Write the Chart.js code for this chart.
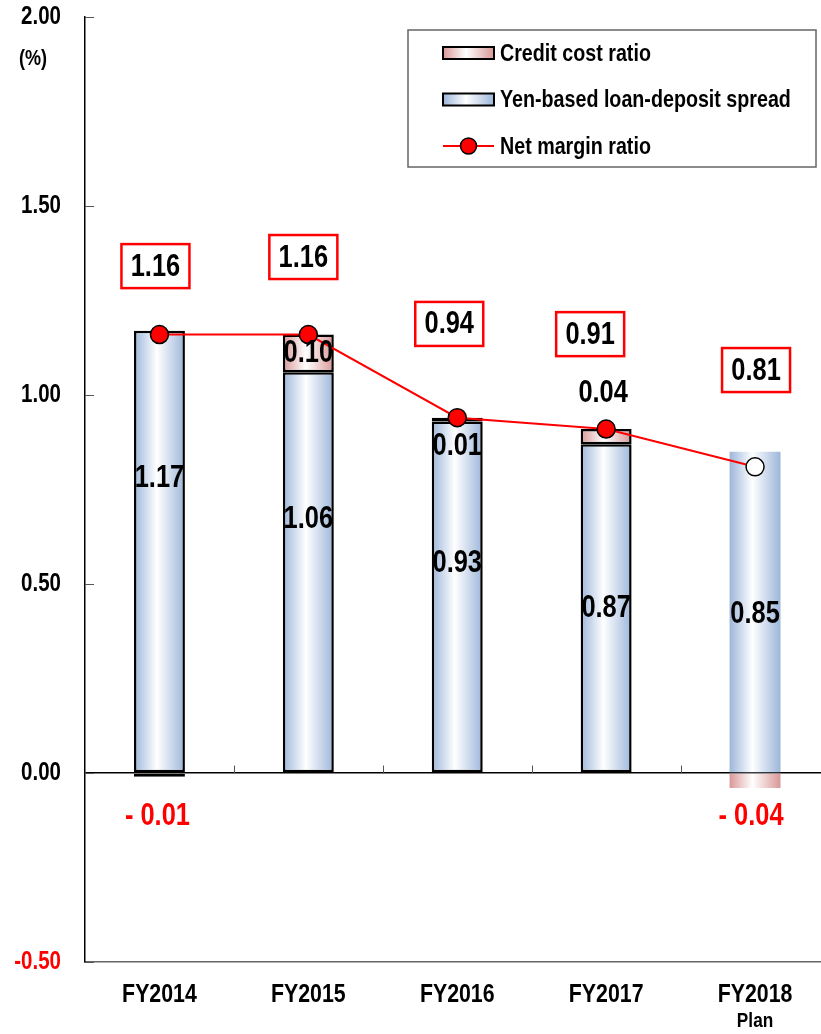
<!DOCTYPE html>
<html>
<head>
<meta charset="utf-8">
<script src="https://cdn.jsdelivr.net/npm/chart.js@4/dist/chart.umd.min.js"></script>
<style>
  html, body { margin: 0; padding: 0; background: #fff; overflow: hidden; }
  #wrap { position: absolute; left: 0; top: 0; width: 840px; height: 1034px; }
</style>
</head>
<body>
<div id="wrap"><canvas id="chart"></canvas></div>
<script>
// Fiscal years and the ratios plotted for each (%)
const categories = ['FY2014', 'FY2015', 'FY2016', 'FY2017', 'FY2018'];
const categoryNotes = ['', '', '', '', 'Plan'];
const loanDepositSpread = [1.17, 1.06, 0.93, 0.87, 0.85];
const creditCostRatio = [-0.01, 0.10, 0.01, 0.04, -0.04];
const netMarginRatio = [1.16, 1.16, 0.94, 0.91, 0.81];
const yTicks = [-0.5, 0, 0.5, 1.0, 1.5, 2.0];

const FONT = "'Liberation Sans', Arial, sans-serif";
const NARROW = 0.82;          // horizontal squeeze giving a narrow bold face
const RED = '#ff0000';
const BLUE_EDGE = '#9db6da';
const PINK_EDGE = '#d99797';
const BAR_FRACTION = 0.342;

// Bold condensed text, centred vertically on y
function narrowText(ctx, text, x, y, size, color, align) {
  ctx.save();
  ctx.font = 'bold ' + size + 'px ' + FONT;
  ctx.fillStyle = color;
  ctx.textAlign = align || 'center';
  ctx.textBaseline = 'middle';
  ctx.translate(x, y);
  ctx.scale(NARROW, 1);
  ctx.fillText(text, 0, 0);
  ctx.restore();
}

// Horizontal "cylinder" shading across each bar
function shade(ctx2d, x0, x1, edge) {
  const g = ctx2d.createLinearGradient(x0, 0, x1, 0);
  g.addColorStop(0, edge);
  g.addColorStop(0.45, '#ffffff');
  g.addColorStop(1, edge);
  return g;
}
function barShade(edge) {
  return (c) => {
    const chart = c.chart;
    if (!chart.chartArea || c.type !== 'data') return edge;
    const xs = chart.scales.x;
    const cx = xs.getPixelForValue(c.dataIndex);
    const half = xs.width / categories.length * BAR_FRACTION / 2;
    return shade(chart.ctx, cx - half, cx + half, edge);
  };
}

const fmt = (v) => v < 0 ? '- ' + Math.abs(v).toFixed(2) : v.toFixed(2);

// Axis labels and decorations: tick labels, inward y tick marks,
// category ticks on the zero line, unit label and the "Plan" note
const axisExtras = {
  id: 'axisExtras',
  afterDraw(chart) {
    const { ctx, chartArea, scales: { x, y } } = chart;
    ctx.save();
    ctx.strokeStyle = '#555';
    ctx.lineWidth = 1;
    y.ticks.forEach((t) => {
      const py = Math.round(y.getPixelForValue(t.value)) + 0.5;
      ctx.beginPath(); ctx.moveTo(chartArea.left, py); ctx.lineTo(chartArea.left + 9, py); ctx.stroke();
      narrowText(ctx, t.value.toFixed(2), 61, py, 25, t.value < 0 ? RED : '#000', 'right');
    });
    const zy = Math.round(y.getPixelForValue(0)) + 0.5;
    for (let i = 0; i < categories.length - 1; i++) {
      const px = Math.round(x.getPixelForValue(i + 0.5)) + 0.5;
      ctx.beginPath(); ctx.moveTo(px, zy); ctx.lineTo(px, zy - 8); ctx.stroke();
    }
    ctx.restore();
    narrowText(ctx, '(%)', 33, 59, 22, '#000');
    categories.forEach((c, i) => {
      const px = x.getPixelForValue(i);
      narrowText(ctx, c, px, 995, 26, '#000');
      if (categoryNotes[i]) narrowText(ctx, categoryNotes[i], px, 1021, 21, '#000');
    });
  }
};

// Value labels for the bars and boxed net margin values
const valueLabels = {
  id: 'valueLabels',
  afterDatasetsDraw(chart, args, opts) {
    const { ctx, scales: { x, y } } = chart;
    loanDepositSpread.forEach((v, i) => {
      narrowText(ctx, fmt(v), x.getPixelForValue(i), y.getPixelForValue(opts.spreadAt[i]), 31, '#000');
    });
    creditCostRatio.forEach((v, i) => {
      narrowText(ctx, fmt(v), x.getPixelForValue(i) + opts.creditShift[i],
        y.getPixelForValue(opts.creditAt[i]), 31, v < 0 ? RED : '#000');
    });
    netMarginRatio.forEach((v, i) => {
      const cx = x.getPixelForValue(i) + opts.netShift[i];
      const cy = y.getPixelForValue(opts.netAt[i]);
      ctx.save();
      ctx.fillStyle = '#fff';
      ctx.fillRect(cx - 34, cy - 22, 68, 44);
      ctx.strokeStyle = RED;
      ctx.lineWidth = 2.5;
      ctx.strokeRect(cx - 34, cy - 22, 68, 44);
      ctx.restore();
      narrowText(ctx, v.toFixed(2), cx, cy + 1, 31, '#000');
    });
  }
};

// Boxed legend inside the plot area
const boxLegend = {
  id: 'boxLegend',
  afterDraw(chart, args, opts) {
    const { ctx } = chart;
    const { left, top, width, height } = opts;
    ctx.save();
    ctx.fillStyle = '#fff';
    ctx.fillRect(left, top, width, height);
    ctx.strokeStyle = '#666';
    ctx.lineWidth = 1.5;
    ctx.strokeRect(left, top, width, height);
    const sx = left + 35, sw = 51;
    const rows = [
      { label: 'Credit cost ratio', edge: PINK_EDGE },
      { label: 'Yen-based loan-deposit spread', edge: BLUE_EDGE },
      { label: 'Net margin ratio', line: true }
    ];
    rows.forEach((r, k) => {
      const cy = top + 23 + k * 46.5;
      if (r.line) {
        ctx.strokeStyle = RED; ctx.lineWidth = 2;
        ctx.beginPath(); ctx.moveTo(sx, cy); ctx.lineTo(sx + sw, cy); ctx.stroke();
        ctx.beginPath(); ctx.arc(sx + sw / 2, cy, 8, 0, Math.PI * 2);
        ctx.fillStyle = RED; ctx.fill();
        ctx.strokeStyle = '#000'; ctx.lineWidth = 1.5; ctx.stroke();
      } else {
        ctx.fillStyle = shade(ctx, sx, sx + sw, r.edge);
        ctx.fillRect(sx, cy - 6, sw, 12);
        ctx.strokeStyle = '#000'; ctx.lineWidth = 2;
        ctx.strokeRect(sx, cy - 6, sw, 12);
      }
      narrowText(ctx, r.label, sx + sw + 6, cy + 1, 24, '#000', 'left');
    });
    ctx.restore();
  }
};

new Chart(document.getElementById('chart'), {
  data: {
    labels: categories,
    datasets: [
      {
        type: 'line',
        label: 'Net margin ratio',
        data: netMarginRatio,
        order: 0,
        borderColor: RED,
        borderWidth: 2,
        pointRadius: 9,
        pointHoverRadius: 9,
        pointBackgroundColor: [RED, RED, RED, RED, '#ffffff'],
        pointBorderColor: '#000',
        pointBorderWidth: 1.5,
        tension: 0
      },
      {
        type: 'bar',
        label: 'Yen-based loan-deposit spread',
        data: loanDepositSpread,
        order: 1,
        stack: 's',
        backgroundColor: barShade(BLUE_EDGE),
        borderColor: '#000',
        borderWidth: [2.5, 2.5, 2.5, 2.5, 0],
        borderSkipped: false,
        categoryPercentage: 1,
        barPercentage: BAR_FRACTION
      },
      {
        type: 'bar',
        label: 'Credit cost ratio',
        data: creditCostRatio,
        order: 1,
        stack: 's',
        backgroundColor: barShade(PINK_EDGE),
        borderColor: '#000',
        borderWidth: [2.5, 2.5, 2.5, 2.5, 0],
        borderSkipped: false,
        categoryPercentage: 1,
        barPercentage: BAR_FRACTION
      }
    ]
  },
  options: {
    responsive: true,
    maintainAspectRatio: false,
    animation: false,
    layout: { padding: { top: 17, right: 10, left: 0, bottom: 0 } },
    scales: {
      x: {
        stacked: true,
        grid: { display: false, drawTicks: false },
        border: { display: true, color: '#666', width: 1.5 },
        ticks: { display: false },
        afterFit: (s) => { s.height = 72; }
      },
      y: {
        stacked: true,
        min: -0.5,
        max: 2.0,
        afterBuildTicks: (s) => { s.ticks = yTicks.map((v) => ({ value: v })); },
        grid: {
          drawTicks: false,
          color: (c) => (c.tick && c.tick.value === 0 ? '#000' : 'rgba(0,0,0,0)'),
          lineWidth: 1.5
        },
        border: { display: true, color: '#000', width: 1.5 },
        ticks: { display: false },
        afterFit: (s) => { s.width = 85; }
      }
    },
    plugins: {
      legend: { display: false },
      tooltip: { enabled: false },
      valueLabels: {
        spreadAt: [0.78, 0.67, 0.555, 0.435, 0.42],
        creditAt: [-0.116, 1.11, 0.865, 1.005, -0.116],
        creditShift: [-2, 0, 0, -3, -4],
        netAt: [1.341, 1.365, 1.188, 1.161, 1.066],
        netShift: [-4, -5, -8, -16, 1]
      },
      boxLegend: { left: 408, top: 30, width: 408, height: 137 }
    }
  },
  plugins: [valueLabels, axisExtras, boxLegend]
});
</script>
</body>
</html>
